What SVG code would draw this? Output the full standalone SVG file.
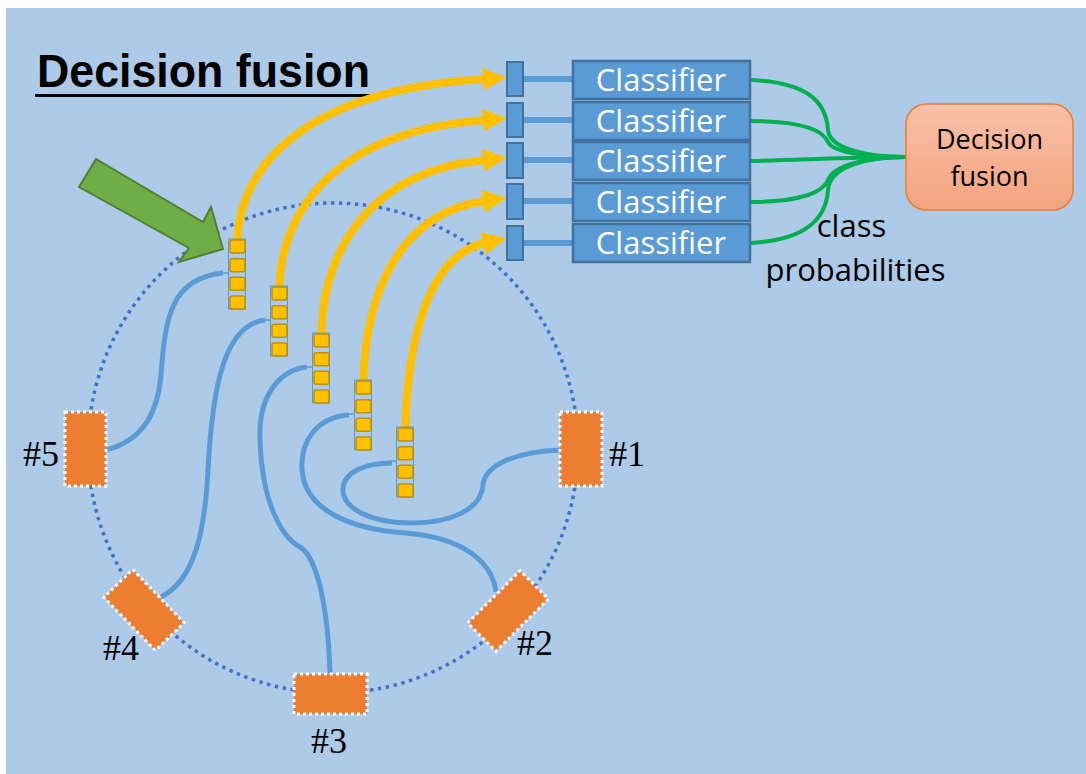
<svg xmlns="http://www.w3.org/2000/svg" xmlns:xlink="http://www.w3.org/1999/xlink" width="1086" height="774" viewBox="0 0 1086 774">
<style>
.sensor{fill:#ED7D31;stroke:#FFFFFF;stroke-width:3;stroke-dasharray:3 3}
.lbl{font-family:"Liberation Serif",serif;font-size:36px;fill:#000}
.cls{fill:#5B9BD5;stroke:#41719C;stroke-width:2.5}
.clst{font-family:"Open Sans","Liberation Sans",sans-serif;font-size:31px;fill:#FFFFFF;text-anchor:middle}
.port{fill:#5B9BD5;stroke:#41719C;stroke-width:2}
.blue{fill:none;stroke:#5B9BD5;stroke-width:5}
.yel{fill:none;stroke:#FFC000;stroke-width:8}
.grn{fill:none;stroke:#00B050;stroke-width:4}
.sq{fill:#FFC000;stroke:#BF9000;stroke-width:1.5}
.txt{font-family:"Open Sans","Liberation Sans",sans-serif;fill:#000}
</style>
<defs>
<marker id="yhead" markerUnits="userSpaceOnUse" markerWidth="26" markerHeight="24" refX="2" refY="11.5" orient="auto">
<path d="M0,0 L24,11.5 L0,23 Z" fill="#FFC000"/>
</marker>
<linearGradient id="dfg" x1="0" y1="0" x2="0" y2="1">
<stop offset="0" stop-color="#F8C1A9"/>
<stop offset="1" stop-color="#F4A37E"/>
</linearGradient>
<g id="stk">
<rect x="-0.5" y="0" width="17" height="70" fill="none" stroke="#5B9BD5" stroke-width="1"/>
<rect class="sq" x="1" y="1" width="15" height="13" rx="2"/>
<rect class="sq" x="1" y="19.7" width="15" height="13" rx="2"/>
<rect class="sq" x="1" y="38.3" width="15" height="13" rx="2"/>
<rect class="sq" x="1" y="57" width="15" height="13" rx="2"/>
<line x1="-6" y1="34" x2="0" y2="34" stroke="#5B9BD5" stroke-width="1.5"/>
</g>
</defs>
<rect x="6" y="8" width="1080" height="766" fill="#ADCBE9"/>
<g id="title">
<text x="37" y="87" font-family="'Liberation Sans',sans-serif" font-weight="bold" font-size="46" textLength="333" lengthAdjust="spacingAndGlyphs" fill="#000">Decision fusion</text>
<rect x="35" y="94" width="337" height="3" fill="#000"/>
</g>
<circle id="ring" cx="333" cy="448" r="245" fill="none" stroke="#4472C4" stroke-width="3.5" stroke-dasharray="3.5 4.5"/>
<g id="connectors">
<path class="blue" d="M106,450 C145,440 158,410 161,375 C165,320 170,278 223,273"/>
<path class="blue" d="M161,597 C195,580 205,530 208,470 C212,395 222,325 265,320"/>
<path class="blue" d="M330,673 C328,610 318,558 300,547 C280,536 262,500 260,440 C258,395 280,370 307,367"/>
<path class="blue" d="M496,592 C492,560 460,537 405,533 C350,529 305,510 302,470 C300,440 318,417 349,415"/>
<path class="blue" d="M560,450 C515,452 485,465 483,485 C481,510 450,523 412,523 C370,523 343,508 343,490 C343,472 365,463 392,463"/>
<path class="yel" marker-end="url(#yhead)" d="M237.5,239 C240,170 300,90 485,79"/>
<path class="yel" marker-end="url(#yhead)" d="M279.5,286 C281.5,215 331,131.6 485,120"/>
<path class="yel" marker-end="url(#yhead)" d="M321.5,333 C323.5,258.6 362.4,172.1 485,160"/>
<path class="yel" marker-end="url(#yhead)" d="M363.5,380 C365.5,303 393.9,213.5 485,201"/>
<path class="yel" marker-end="url(#yhead)" d="M405.5,427 C407.5,348 425.4,255.9 485,243"/>
<g stroke="#5B9BD5" stroke-width="6">
<line x1="523" y1="79" x2="573" y2="79"/>
<line x1="523" y1="120" x2="573" y2="120"/>
<line x1="523" y1="160" x2="573" y2="160"/>
<line x1="523" y1="201" x2="573" y2="201"/>
<line x1="523" y1="243" x2="573" y2="243"/>
</g>
<path class="grn" d="M750,80 C805,82 826,100 828,130 C830,150 870,157 906,157"/>
<path class="grn" d="M750,121 C795,121 822,128 828,142 C834,154 875,157 906,157"/>
<path class="grn" d="M750,161 C800,160 850,157 906,157"/>
<path class="grn" d="M750,202 C795,202 822,194 828,180 C834,163 875,157 906,157"/>
<path class="grn" d="M750,243 C805,240 826,220 828,190 C830,165 870,157 906,157"/>
</g>
<g id="sensor1"><rect class="sensor" x="560" y="412" width="42" height="74"/><text class="lbl" x="609" y="466">#1</text></g>
<g id="sensor2"><rect class="sensor" x="-37" y="-20" width="74" height="40" transform="translate(508,611) rotate(-45)"/><text class="lbl" x="517" y="655">#2</text></g>
<g id="sensor3"><rect class="sensor" x="294" y="674" width="73" height="40"/><text class="lbl" x="311" y="753">#3</text></g>
<g id="sensor4"><rect class="sensor" x="-37" y="-20" width="74" height="40" transform="translate(144,610) rotate(46)"/><text class="lbl" x="103" y="660">#4</text></g>
<g id="sensor5"><rect class="sensor" x="65" y="412" width="41" height="74"/><text class="lbl" x="23" y="466">#5</text></g>
<g id="stack1"><use xlink:href="#stk" href="#stk" x="229" y="239"/></g>
<g id="stack2"><use xlink:href="#stk" href="#stk" x="271" y="286"/></g>
<g id="stack3"><use xlink:href="#stk" href="#stk" x="313" y="333"/></g>
<g id="stack4"><use xlink:href="#stk" href="#stk" x="355" y="380"/></g>
<g id="stack5"><use xlink:href="#stk" href="#stk" x="397" y="427"/></g>
<g id="arrow-green"><polygon points="79,187 96,159 203,222 211,207 223,249 179,262 189,248" fill="#70AD47" stroke="#507E32" stroke-width="2"/></g>
<g id="port1"><rect class="port" x="507" y="62" width="16" height="34"/></g>
<g id="port2"><rect class="port" x="507" y="103" width="16" height="34"/></g>
<g id="port3"><rect class="port" x="507" y="143" width="16" height="35"/></g>
<g id="port4"><rect class="port" x="507" y="184" width="16" height="35"/></g>
<g id="port5"><rect class="port" x="507" y="226" width="16" height="34"/></g>
<g id="classifier1"><rect class="cls" x="573" y="61" width="177" height="38"/><text class="clst" x="661" y="91">Classifier</text></g>
<g id="classifier2"><rect class="cls" x="573" y="102" width="177" height="38"/><text class="clst" x="661" y="132">Classifier</text></g>
<g id="classifier3"><rect class="cls" x="573" y="142" width="177" height="38"/><text class="clst" x="661" y="172">Classifier</text></g>
<g id="classifier4"><rect class="cls" x="573" y="183" width="177" height="38"/><text class="clst" x="661" y="213">Classifier</text></g>
<g id="classifier5"><rect class="cls" x="573" y="224" width="177" height="38"/><text class="clst" x="661" y="254">Classifier</text></g>
<g id="decision-fusion">
<rect x="906" y="104" width="167" height="106" rx="20" fill="url(#dfg)" stroke="#ED7D31" stroke-width="1.5"/>
<text class="txt" x="989.5" y="149" font-size="27" text-anchor="middle">Decision</text>
<text class="txt" x="989.5" y="186" font-size="27" text-anchor="middle">fusion</text>
</g>
<g id="label-probs">
<text class="txt" x="851.5" y="237" font-size="31" text-anchor="middle">class</text>
<text class="txt" x="855.5" y="281" font-size="31" text-anchor="middle">probabilities</text>
</g>
</svg>
